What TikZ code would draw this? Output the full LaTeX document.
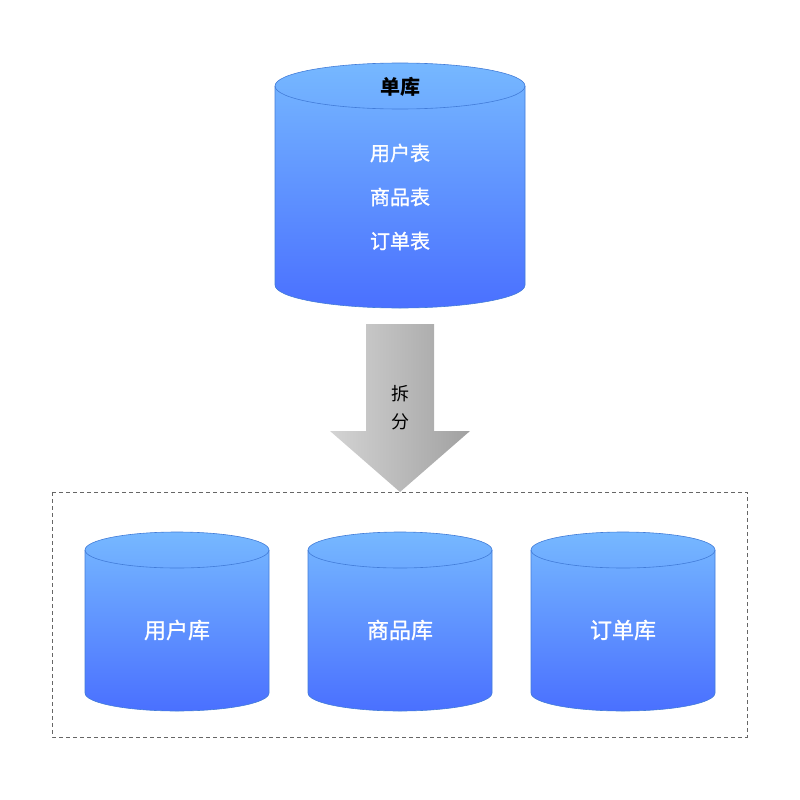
\documentclass[tikz,border=0pt]{standalone}
\usepackage{fontspec}
\setmainfont{Noto Sans CJK SC}
\newfontfamily\medfont[FakeBold=1.2]{Noto Sans CJK SC}
\definecolor{dbtop}{RGB}{118,184,255}
\definecolor{dbbot}{RGB}{74,112,255}
\definecolor{dbline}{RGB}{66,124,216}
\newcommand{\dbcyl}[5]{% left, right, top centre y, bottom centre y, y radius
  \shade[top color=dbtop, bottom color=dbbot, draw=dbline, line width=0.6pt]
    (#1,#3) -- (#1,#4) arc[start angle=180, end angle=0, x radius={(#2-#1)/2}, y radius=#5]
    -- (#2,#3) arc[start angle=0, end angle=-180, x radius={(#2-#1)/2}, y radius=#5] -- cycle;
  \draw[dbline, line width=0.6pt] (#1,#3) arc[start angle=180, end angle=0, x radius={(#2-#1)/2}, y radius=#5];
}
\begin{document}
\begin{tikzpicture}[x=1pt, y=-1pt,
  lbl/.style={text=white, font=\medfont\fontsize{20}{20}\selectfont, inner sep=0pt},
  dblbl/.style={text=white, font=\medfont\fontsize{22}{22}\selectfont, inner sep=0pt},
  cut/.style={text=black, font=\fontsize{18}{18}\selectfont, inner sep=0pt}]
\useasboundingbox (0,0) rectangle (800,800);
% single database
\dbcyl{275}{525}{86}{285}{23}
\node[inner sep=0pt, font=\fontsize{20}{20}\selectfont\bfseries] (single) at (400,87) {单库};
\node[lbl] (users) at (400,153) {用户表};
\node[lbl] (goods) at (400,197) {商品表};
\node[lbl] (orders) at (400,241) {订单表};
% split arrow
\shade[left color=black!17, right color=black!37]
  (366,324) -- (434,324) -- (434,431) -- (470,431) -- (400,492) -- (330,431) -- (366,431) -- cycle;
\node[cut] (split1) at (400,394) {拆};
\node[cut] (split2) at (400,422) {分};
% split databases
\draw[dashed, black!60, dash pattern=on 4pt off 3pt] (52,492) rectangle (747,737);
\dbcyl{85}{269}{550}{693}{18}
\dbcyl{308}{492}{550}{693}{18}
\dbcyl{531}{715}{550}{693}{18}
\node[dblbl] (userdb) at (177,630) {用户库};
\node[dblbl] (gooddb) at (400,630) {商品库};
\node[dblbl] (orderdb) at (623,630) {订单库};
\end{tikzpicture}
\end{document}
